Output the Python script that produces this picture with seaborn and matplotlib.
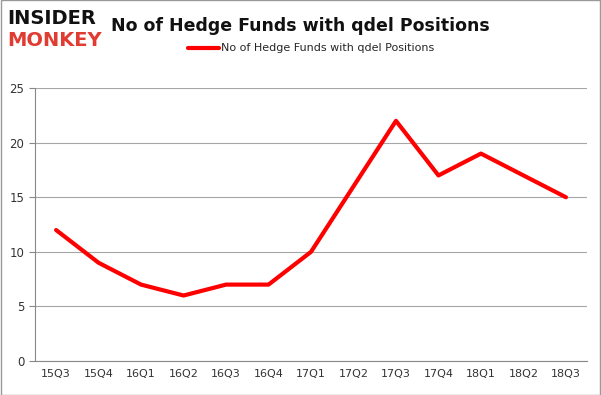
import pandas as pd
import matplotlib.pyplot as plt
import seaborn as sns

# Data
quarters = ["15Q3", "15Q4", "16Q1", "16Q2", "16Q3", "16Q4", "17Q1",
            "17Q2", "17Q3", "17Q4", "18Q1", "18Q2", "18Q3"]
funds = [12, 9, 7, 6, 7, 7, 10, 16, 22, 17, 19, 17, 15]
label = "No of Hedge Funds with qdel Positions"

df = pd.DataFrame({"Quarter": quarters, "Funds": funds})
df["x"] = range(len(quarters))

sns.set_style("white")
plt.rcParams["font.family"] = ["DejaVu Sans"]

fig = plt.figure(figsize=(6.01, 3.95), dpi=100)
ax = fig.add_axes([0.058, 0.086, 0.919, 0.691])

sns.lineplot(data=df, x="x", y="Funds", color="#ff0000", linewidth=3,
             label=label, ax=ax)

ax.set_xlim(-0.5, len(quarters) - 0.5)
ax.set_ylim(0, 25)
ax.set_yticks(range(0, 26, 5))
ax.set_xticks(range(len(quarters)))
ax.set_xticklabels(quarters)
ax.set_xticks([i - 0.5 for i in range(len(quarters) + 1)], minor=True)
ax.tick_params(axis="x", which="major", length=0, labelsize=8, pad=6, colors="#333333")
ax.tick_params(axis="x", which="minor", length=4, color="#888888")
ax.tick_params(axis="y", length=4, labelsize=8.5, colors="#333333", color="#888888", left=True)
ax.grid(axis="y", color="#a6a6a6", linewidth=0.8)
ax.set_axisbelow(True)
for s in ["top", "right"]:
    ax.spines[s].set_visible(False)
ax.spines["left"].set_color("#888888")
ax.spines["bottom"].set_color("#888888")
ax.set_xlabel("")
ax.set_ylabel("")

ax.legend(loc="upper center", bbox_to_anchor=(0.5, 1.2), frameon=False,
          fontsize=8, handlelength=2.8, handletextpad=0.1)

fig.text(0.5, 0.935, label, ha="center", va="center", fontsize=12.5,
         fontweight="bold", color="#111111")
fig.text(0.012, 0.952, "INSIDER", ha="left", va="center", fontsize=14,
         fontweight="heavy", color="#111111")
fig.text(0.012, 0.897, "MONKEY", ha="left", va="center", fontsize=14,
         fontweight="heavy", color="#e03c31")

# thin gray frame around the image
fig.patches.append(plt.Rectangle((0.001, 0.001), 0.998, 0.998, transform=fig.transFigure,
                                 fill=False, edgecolor="#999999", linewidth=1))

plt.savefig("out.png", dpi=100)
